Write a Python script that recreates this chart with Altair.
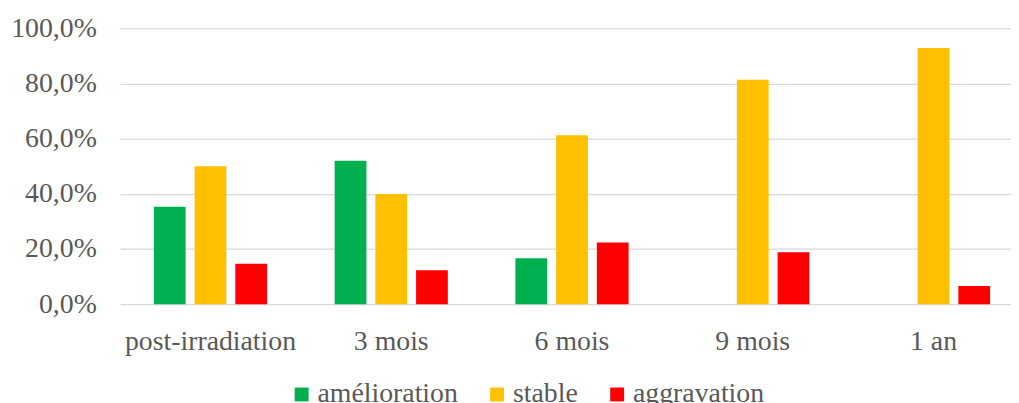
import altair as alt
import pandas as pd

categories = ["post-irradiation", "3 mois", "6 mois", "9 mois", "1 an"]
series = ["amélioration", "stable", "aggravation"]
amelioration = [35.3, 52.0, 16.7, 0.0, 0.0]
stable = [50.0, 40.0, 61.3, 81.4, 92.9]
aggravation = [14.7, 12.3, 22.4, 18.8, 6.6]
colors = ["#00B050", "#FFC000", "#FF0000"]
y_ticks = [0, 20, 40, 60, 80, 100]

rows = []
for vals, s in zip([amelioration, stable, aggravation], series):
    for c, v in zip(categories, vals):
        rows.append({"cat": c, "serie": s, "val": v})
df = pd.DataFrame(rows)

FONT = "Liberation Serif"
TXT = "#595959"

chart = alt.Chart(df).mark_bar().encode(
    x=alt.X("cat:N", sort=categories, title=None,
            scale=alt.Scale(paddingInner=0, paddingOuter=0),
            axis=alt.Axis(labelAngle=0, domain=False, ticks=False, labelPadding=24,
                          labelFont=FONT, labelFontSize=28, labelColor=TXT,
                          labelBaseline="top")),
    xOffset=alt.XOffset("serie:N", sort=series,
                        scale=alt.Scale(paddingInner=0.22, paddingOuter=0.83)),
    y=alt.Y("val:Q", title=None,
            scale=alt.Scale(domain=[0, 100], nice=False),
            axis=alt.Axis(values=y_ticks, domain=False, ticks=False, labelPadding=24,
                          labelFont=FONT, labelFontSize=28, labelColor=TXT,
                          gridColor="#D9D9D9", gridWidth=1.3,
                          labelExpr="replace(format(datum.value, '.1f'), '.', ',') + '%'")),
    color=alt.Color("serie:N", sort=series,
                    scale=alt.Scale(domain=series, range=colors),
                    legend=alt.Legend(title=None, orient="none", direction="horizontal",
                                      legendX=169, legendY=355,
                                      symbolType="square", symbolSize=196,
                                      symbolStrokeWidth=0,
                                      labelFont=FONT, labelFontSize=28, labelColor=TXT,
                                      labelOffset=2, columnPadding=25, padding=0)),
).properties(
    width=911, height=278,
    autosize=alt.AutoSizeParams(type="none"),
    padding={"left": 113, "top": 19, "right": -13, "bottom": 98},
).configure_view(stroke=None)

chart.save("out.html", embed_options={"renderer": "svg", "actions": False})
